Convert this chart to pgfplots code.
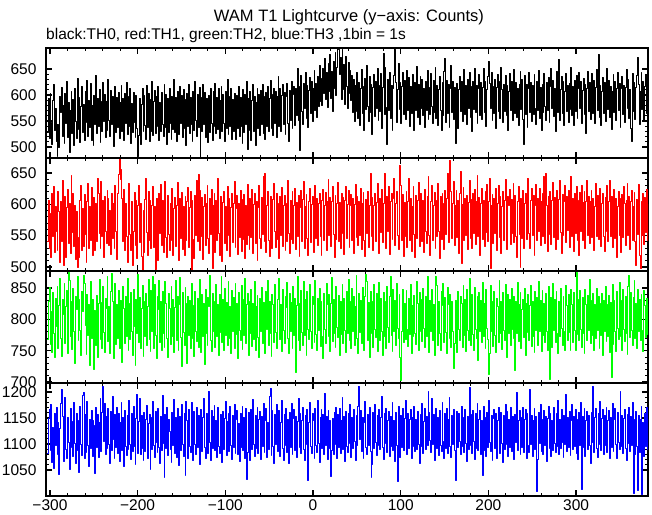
\documentclass[border=0pt]{standalone}
\usepackage{pgfplots}
\pgfplotsset{compat=1.18}
\usepackage{pgfplotstable}
\usepackage{fontspec}
\setmainfont{Liberation Sans}
\newcommand{\fs}{\fontsize{15.5bp}{18bp}\selectfont}

\pgfplotstableread{
t a b c d
-303 528 541 768 1082
-302 594 606 829 1149
-301 517 530 851 1167
-300 603 585 760 1088
-299 548 515 812 1176
-298 505 618 748 1064
-297 589 549 843 1132
-296 621 628 777 1053
-295 532 523 739 1158
-294 575 597 834 1097
-293 511 556 789 1171
-292 482 527 853 1079
-291 543 620 754 1141
-290 499 588 822 1041
-289 598 508 866 1130
-288 566 604 770 1177
-287 615 540 741 1205
-286 521 639 831 1153
-285 580 503 808 1066
-284 507 532 857 1138
-283 604 613 761 1190
-282 545 515 820 1089
-281 626 595 846 1072
-280 519 624 745 1151
-279 585 538 875 1103
-278 490 601 862 1051
-277 571 522 772 1168
-276 607 646 829 1094
-275 527 555 752 1143
-274 592 617 849 1076
-273 503 533 781 1180
-272 612 599 729 1101
-271 549 512 837 1063
-270 516 588 816 1159
-269 633 500 868 1087
-268 534 547 766 1145
-267 596 516 832 1046
-266 509 607 783 1172
-265 578 630 743 1099
-264 617 526 845 1078
-263 529 593 812 1194
-262 583 533 870 1198
-261 512 616 858 1072
-260 608 552 790 1156
-259 547 507 744 1084
-258 629 605 840 1182
-257 520 634 775 1097
-256 590 529 823 1056
-255 538 597 726 1148
-254 622 543 861 1091
-253 513 627 770 1164
-252 581 519 831 1077
-251 504 592 752 1146
-250 600 611 720 1135
-249 544 527 815 1043
-248 637 602 759 1170
-247 526 541 838 1093
-246 593 641 740 1157
-245 540 617 826 1074
-244 611 553 864 1142
-243 509 530 768 1188
-242 587 636 827 1085
-241 531 549 754 1160
-240 624 606 852 1210
-239 549 515 779 1104
-238 601 613 748 1177
-237 518 557 833 1080
-236 588 538 818 1152
-235 533 622 869 1091
-234 630 609 765 1168
-233 551 534 821 1099
-232 521 590 745 1062
-231 609 520 844 1163
-230 544 618 873 1087
-229 598 545 829 1191
-228 501 601 737 1108
-227 582 529 814 1073
-226 616 630 858 1156
-225 528 556 760 1094
-224 595 512 823 1170
-223 537 617 769 1081
-222 606 648 846 1159
-221 516 671 753 1066
-220 586 640 830 1142
-219 619 655 777 1180
-218 530 610 731 1088
-217 593 541 853 1151
-216 512 624 817 1057
-215 603 527 761 1165
-214 545 602 836 1096
-213 625 549 772 1078
-212 524 508 866 1154
-211 597 614 750 1089
-210 540 633 825 1183
-209 613 552 768 1100
-208 507 526 843 1071
-207 584 605 780 1158
-206 528 502 743 1085
-205 605 557 848 1172
-204 548 619 789 1095
-203 519 534 727 1061
-202 600 607 832 1149
-201 535 513 777 1195
-200 483 598 871 1082
-199 523 630 764 1144
-198 594 539 835 1187
-197 505 601 753 1079
-196 583 517 817 1155
-195 612 495 854 1092
-194 530 590 741 1068
-193 599 524 829 1161
-192 542 608 772 1086
-191 515 642 841 1148
-190 618 555 759 1174
-189 538 519 820 1072
-188 604 620 863 1139
-187 510 543 768 1157
-186 592 606 749 1051
-185 531 530 846 1150
-184 626 599 780 1090
-183 522 628 868 1182
-182 587 532 754 1097
-181 609 596 855 1075
-180 526 496 775 1163
-179 597 610 738 1102
-178 540 544 837 1084
-177 616 511 816 1169
-176 513 618 862 1093
-175 586 553 763 1062
-174 531 632 828 1152
-173 605 535 750 1087
-172 544 607 844 1193
-171 520 524 777 1101
-170 621 600 755 1036
-169 537 637 860 1156
-168 601 547 825 1092
-167 506 515 769 1171
-166 593 614 739 1078
-165 529 552 841 1147
-164 612 526 818 1124
-163 546 601 760 1089
-162 515 543 853 1065
-161 598 625 773 1160
-160 534 518 832 1097
-159 631 594 747 1186
-158 528 611 819 1082
-157 595 533 862 1151
-156 511 598 766 1074
-155 608 635 836 1168
-154 541 549 751 1094
-153 524 510 824 1059
-152 616 609 867 1153
-151 545 546 771 1088
-150 599 619 725 1175
-149 518 528 843 1100
-148 610 596 779 1077
-147 535 519 759 1158
-146 591 613 851 1040
-145 503 542 826 1182
-144 604 604 730 1145
-143 540 627 837 1072
-142 620 531 775 1166
-141 527 595 830 1096
-140 596 620 753 1083
-139 544 494 858 1179
-138 511 606 770 1104
-137 607 544 822 1068
-136 533 514 741 1162
-135 627 615 845 1099
-134 552 551 781 1080
-133 521 639 765 1171
-132 602 540 833 1093
-131 538 648 756 1155
-130 614 527 864 1061
-129 481 622 818 1147
-128 596 548 747 1167
-127 531 611 840 1086
-126 621 512 773 1150
-125 543 597 825 1188
-124 606 616 728 1094
-123 519 534 847 1073
-122 594 602 778 1159
-121 538 631 759 1098
-120 509 545 835 1081
-119 600 521 820 1200
-118 529 609 870 1102
-117 613 552 767 1069
-116 545 624 749 1164
-115 512 498 842 1091
-114 608 599 780 1153
-113 540 617 828 1174
-112 623 523 755 1087
-111 526 606 856 1146
-110 595 542 772 1075
-109 534 641 823 1170
-108 612 554 742 1096
-107 517 519 839 1082
-106 590 612 779 1157
-105 616 548 868 1141
-104 531 509 763 1064
-103 601 603 831 1163
-102 545 620 750 1090
-101 510 538 850 1149
-100 607 597 775 1181
-99 536 526 827 1078
-98 630 629 758 1143
-97 524 550 861 1159
-96 597 610 769 1085
-95 539 517 820 1172
-94 613 595 745 1098
-93 515 618 846 1071
-92 592 539 781 1154
-91 530 602 835 1093
-90 604 636 754 1175
-89 542 531 857 1082
-88 514 594 776 1148
-87 599 614 825 1165
-86 535 520 737 1079
-85 617 601 843 1140
-84 521 547 783 1066
-83 596 622 766 1158
-82 539 525 854 1094
-81 508 608 752 1173
-80 610 544 832 1087
-79 528 616 775 1150
-78 601 513 866 1073
-77 543 599 761 1169
-76 626 536 823 1032
-75 496 632 842 1084
-74 594 551 743 1160
-73 533 528 829 1103
-72 607 609 778 1068
-71 513 547 848 1166
-70 589 624 757 1090
-69 620 522 826 1185
-68 531 600 768 1099
-67 598 618 861 1076
-66 504 537 750 1155
-65 586 604 820 1092
-64 612 511 838 1171
-63 536 595 771 1081
-62 602 630 739 1147
-61 523 546 833 1162
-60 609 529 780 1070
-59 544 611 851 1152
-58 621 552 762 1095
-57 527 645 827 1177
-56 598 540 773 1084
-55 514 650 746 1145
-54 606 523 844 1168
-53 540 598 784 1075
-52 617 621 862 1142
-51 531 542 758 1089
-50 594 517 829 1192
-49 629 613 777 1206
-48 536 550 741 1078
-47 601 529 840 1165
-46 523 608 823 1096
-45 612 633 764 1063
-44 545 556 855 1157
-43 608 532 779 1100
-42 518 617 753 1175
-41 597 544 832 1086
-40 635 601 866 1148
-39 540 514 866 1164
-38 613 612 768 1077
-37 531 551 824 1142
-36 600 627 749 1183
-35 621 533 847 1091
-34 543 599 782 1069
-33 606 615 761 1156
-32 524 526 836 1098
-31 598 602 819 1169
-30 623 540 859 1083
-29 546 638 770 1147
-28 510 553 746 1062
-27 609 521 841 1160
-26 551 606 780 1094
-25 627 544 827 1178
-24 535 620 754 1080
-23 602 537 853 1149
-22 616 599 775 1166
-21 541 626 833 1088
-20 612 528 715 1152
-19 560 603 822 1075
-18 652 548 868 1144
-17 551 614 766 1187
-16 616 517 826 1093
-15 494 595 750 1159
-14 638 623 846 1082
-13 568 541 779 1145
-12 544 608 758 1171
-11 622 637 860 1090
-10 574 530 774 1068
-9 643 597 831 1154
-8 556 616 743 1099
-7 619 545 844 1167
-6 537 519 784 1030
-5 609 604 768 1142
-4 634 625 855 1180
-3 565 539 780 1095
-2 626 600 754 1081
-1 550 612 837 1158
0 613 524 823 1146
1 647 593 764 1072
2 571 631 862 1169
3 622 545 776 1098
4 558 610 751 1084
5 636 534 834 1183
6 579 602 782 1101
7 657 617 849 1065
8 588 548 757 1150
9 633 518 829 1166
10 581 606 773 1092
11 652 624 738 1157
12 604 542 841 1079
13 670 598 784 1197
14 591 619 761 1097
15 643 527 858 1153
16 576 604 824 1070
17 660 640 772 1165
18 607 550 840 1091
19 679 611 749 1146
20 594 533 825 1038
21 646 605 867 1087
22 568 628 765 1149
23 665 552 832 1080
24 613 516 777 1161
25 683 615 755 1100
26 599 544 853 1171
27 654 602 787 1073
28 689 635 771 1156
29 687 540 838 1094
30 640 603 743 1168
31 672 529 829 1082
32 592 618 776 1145
33 688 554 856 1189
34 610 611 762 1089
35 659 520 834 1152
36 583 607 783 1067
37 675 629 747 1163
38 616 546 844 1096
39 574 600 778 1084
40 662 622 863 1159
41 603 531 767 1101
42 648 598 828 1176
43 589 616 753 1075
44 637 543 849 1150
45 566 609 781 1091
46 630 521 836 1167
47 550 600 759 1104
48 618 632 821 1068
49 569 547 870 1155
50 643 612 770 1098
51 556 534 745 1172
52 625 605 842 1210
53 541 551 779 1108
54 612 626 830 1164
55 650 528 762 1086
56 564 601 851 1151
57 616 619 789 1073
58 533 543 751 1142
59 633 517 836 1181
60 572 608 872 1094
61 657 553 860 1079
62 578 621 766 1157
63 549 532 827 1098
64 635 598 739 1170
65 567 650 845 1085
66 621 549 777 1035
67 525 611 828 1061
68 614 526 756 1160
69 640 599 855 1092
70 559 618 784 1176
71 626 540 771 1103
72 574 603 841 1078
73 652 633 749 1154
74 551 547 824 1097
75 618 522 859 1166
76 568 609 767 1089
77 642 555 834 1150
78 536 624 780 1191
79 615 539 742 1093
80 680 602 843 1070
81 562 650 773 1158
82 654 548 829 1101
83 577 530 754 1169
84 505 613 852 1083
85 631 556 787 1145
86 571 628 764 1163
87 644 520 836 1076
88 555 605 869 1152
89 619 617 775 1095
90 532 544 749 1179
91 613 609 847 1088
92 638 642 781 1146
93 688 534 830 1067
94 624 601 758 1160
95 548 621 857 1098
96 610 550 786 1028
97 660 528 769 1172
98 573 614 839 1101
99 625 662 740 1075
100 546 631 702 1155
101 616 542 780 1093
102 643 616 848 1168
103 563 517 763 1087
104 629 603 825 1149
105 554 549 768 1184
106 612 621 846 1099
107 648 532 784 1080
108 570 604 757 1158
109 634 641 833 1091
110 539 543 776 1147
111 617 610 855 1166
112 564 525 746 1072
113 639 597 822 1151
114 578 628 772 1096
115 532 552 838 1173
116 624 515 778 1085
117 571 614 760 1148
118 655 546 861 1089
119 557 606 826 1163
120 620 635 751 1100
121 543 533 843 1062
122 636 600 781 1156
123 575 618 832 1095
124 631 541 765 1178
125 560 607 850 1081
126 613 523 786 1144
127 537 624 755 1168
128 626 557 836 1090
129 570 537 773 1153
130 647 612 869 1098
131 553 645 770 1201
132 614 551 747 1161
133 562 519 830 1106
134 641 605 780 1084
135 579 630 847 1187
136 545 542 767 1100
137 628 598 823 1157
138 567 619 742 1069
139 654 530 840 1142
140 556 607 869 1169
141 619 549 854 1091
142 542 634 759 1150
143 611 556 829 1078
144 636 514 777 1164
145 571 613 751 1097
146 533 544 844 1086
147 624 618 822 1180
148 561 601 857 1105
149 645 528 764 1073
150 670 623 835 1159
151 548 552 779 1092
152 629 610 745 1168
153 564 650 851 1082
154 621 539 824 1147
155 538 613 769 1190
156 613 670 840 1096
157 657 620 755 1075
158 566 545 828 1154
159 627 602 781 1100
160 554 636 722 1166
161 615 534 762 1087
162 508 598 830 1030
163 559 622 812 1061
164 622 547 747 1162
165 536 606 845 1093
166 611 522 784 1158
167 635 618 766 1104
168 569 652 837 1079
169 626 506 825 1173
170 550 600 755 1095
171 614 627 854 1151
172 649 543 774 1084
173 563 609 832 1167
174 618 551 749 1101
175 543 614 847 1066
176 630 528 782 1152
177 574 603 767 1090
178 643 639 865 1208
179 557 546 823 1098
180 616 608 758 1156
181 530 530 839 1082
182 626 617 776 1165
183 572 554 750 1104
184 651 624 851 1071
185 567 536 784 1159
186 619 605 769 1092
187 546 647 836 1177
188 612 549 734 1087
189 640 611 843 1148
190 561 518 780 1164
191 625 602 830 1080
192 553 626 763 1146
193 614 544 859 1040
194 652 607 773 1172
195 566 533 825 1088
196 627 620 754 1151
197 540 555 848 1077
198 610 632 786 1161
199 636 541 768 1094
200 665 604 712 1183
201 622 641 745 1102
202 575 497 854 1085
203 644 599 781 1154
204 551 616 828 1069
205 617 538 757 1149
206 564 609 845 1166
207 631 553 775 1091
208 535 625 748 1158
209 614 527 834 1073
210 639 601 820 1145
211 569 630 763 1171
212 626 547 862 1096
213 556 612 778 1082
214 653 521 829 1160
215 611 597 752 1101
216 548 621 843 1064
217 620 542 782 1155
218 568 606 767 1090
219 637 640 855 1176
220 560 551 823 1099
221 619 528 740 1162
222 533 613 840 1077
223 608 599 777 1148
224 642 624 832 1093
225 570 536 758 1170
226 627 608 849 1085
227 552 553 784 1152
228 616 634 769 1098
229 649 539 837 1071
230 565 615 718 1157
231 625 548 828 1102
232 558 516 778 1199
233 613 605 859 1088
234 542 628 765 1146
235 621 552 824 1165
236 646 499 843 1079
237 573 610 753 1150
238 630 546 816 1094
239 554 622 832 1171
240 505 530 771 1083
241 638 601 850 1148
242 563 617 743 1166
243 620 544 826 1073
244 538 608 779 1159
245 612 641 839 1097
246 644 554 766 1084
247 567 529 822 1205
248 624 607 854 1100
249 550 625 757 1155
250 618 550 828 1077
251 562 614 773 1146
252 639 518 747 1168
253 575 599 845 1089
254 544 632 783 1152
255 627 543 835 1008
256 571 609 759 1070
257 648 556 860 1161
258 556 626 780 1101
259 615 534 830 1175
260 533 604 749 1086
261 621 618 846 1147
262 567 548 775 1080
263 642 645 826 1164
264 579 537 764 1098
265 552 650 841 1153
266 625 599 780 1066
267 570 525 750 1149
268 634 613 853 1173
269 547 552 820 1092
270 616 620 705 1158
271 651 536 835 1077
272 574 606 755 1145
273 628 635 857 1087
274 559 547 782 1170
275 613 611 832 1101
276 530 528 764 1083
277 620 603 845 1159
278 645 622 778 1096
279 566 544 746 1184
280 668 608 828 1080
281 551 639 772 1148
282 611 555 850 1091
283 635 522 785 1166
284 564 616 759 1102
285 626 550 837 1074
286 542 605 780 1155
287 608 630 750 1099
288 641 539 854 1196
289 569 613 822 1085
290 619 558 767 1150
291 548 623 839 1093
292 623 531 779 1162
293 572 607 751 1078
294 654 644 848 1145
295 561 548 823 1176
296 616 610 763 1089
297 541 525 843 1153
298 629 617 783 1096
299 568 554 750 1167
300 637 629 874 1082
301 555 543 776 1148
302 613 606 832 1071
303 643 518 767 1160
304 574 619 846 1097
305 627 556 784 1179
306 546 631 755 1012
307 609 542 835 1152
308 633 603 778 1094
309 563 620 746 1169
310 621 530 847 1076
311 526 604 823 1146
312 612 638 767 1163
313 646 551 838 1090
314 569 612 782 1154
315 624 537 863 1098
316 554 605 761 1062
317 618 622 830 1161
318 642 547 774 1103
319 565 609 842 1210
320 628 527 751 1084
321 545 597 823 1150
322 614 633 770 1168
323 649 549 850 1091
324 571 615 783 1075
325 678 544 836 1158
326 557 608 754 1100
327 619 626 825 1182
328 542 533 775 1088
329 608 601 841 1149
330 634 618 743 1166
331 565 549 830 1080
332 625 525 780 1155
333 550 611 852 1097
334 614 556 765 1171
335 651 630 823 1083
336 572 541 772 1146
337 629 604 838 1164
338 558 639 748 1072
339 616 549 827 1151
340 534 613 708 1093
341 607 532 855 1177
342 639 599 760 1085
343 567 624 830 1148
344 626 545 781 1168
345 551 610 749 1099
346 613 515 844 1073
347 644 597 786 1160
348 570 621 768 1102
349 623 551 859 1089
350 537 609 773 1200
351 612 524 830 1096
352 636 616 751 1155
353 563 547 847 1081
354 619 629 784 1149
355 548 601 765 1167
356 615 534 836 1092
357 649 606 778 1068
358 574 633 744 1157
359 630 550 853 1101
360 555 612 870 1170
361 611 528 771 1086
362 536 604 843 1152
363 510 623 782 1098
364 641 542 758 1179
365 568 597 835 1005
366 625 619 862 1147
367 553 540 769 1080
368 614 502 825 1163
369 637 608 753 1096
370 672 552 848 1010
371 621 632 780 1154
372 544 518 832 1084
373 608 498 767 1148
374 644 605 839 1172
375 572 550 783 1003
376 626 618 749 1142
377 551 536 846 1077
378 616 611 822 1159
379 639 555 771 1095
380 564 624 833 1170
381 623 543 776 1089
382 607 601 825 1148
}\lc

\pgfplotsset{
  panel/.style={
    scale only axis,
    width=602bp,
    anchor=north west,
    xmin=-304.5, xmax=382,
    axis line style={line width=1.4bp},
    major tick style={line width=1.4bp, black},
    minor tick style={line width=0.9bp, black},
    major tick length=6bp,
    minor tick length=3bp,
    tick align=inside,
    xtick pos=both, ytick pos=both,
    xtick={-300,-200,-100,0,100,200,300},
    minor x tick num=4,
    minor y tick num=4,
    xticklabels={,,,,,,},
    ticklabel style={font=\fs},
    yticklabel style={xshift=-6bp},
    /pgf/number format/assume math mode=true,
    /pgf/number format/1000 sep={},
    every axis plot/.append style={const plot, line width=0.8bp, line join=miter, miter limit=1},
  }
}

\begin{document}
\begin{tikzpicture}
\useasboundingbox (0,0) rectangle (652bp,-515bp);
\node[font=\fontsize{16.5bp}{19bp}\selectfont] at (349bp,-17bp) {WAM T1 Lightcurve (y−axis: Counts)};
\node[font=\fs, anchor=west, inner sep=0pt] at (46bp,-35bp) {black:TH0, red:TH1, green:TH2, blue:TH3 ,1bin = 1s};

\begin{axis}[panel, at={(46bp,-48bp)}, height=110bp,
  ymin=479, ymax=690.5, ytick={500,550,600,650}]
\addplot[black] table[x=t, y=a] {\lc};
\end{axis}

\begin{axis}[panel, at={(46bp,-158bp)}, height=113bp,
  ymin=493.5, ymax=674, ytick={500,550,600,650}]
\addplot[red] table[x=t, y=b] {\lc};
\end{axis}

\begin{axis}[panel, at={(46bp,-271bp)}, height=112bp,
  ymin=698.5, ymax=877, ytick={700,750,800,850}]
\addplot[green] table[x=t, y=c] {\lc};
\end{axis}

\begin{axis}[panel, at={(46bp,-383bp)}, height=113bp,
  ymin=1000, ymax=1217, ytick={1050,1100,1150,1200},
  xticklabels={−300,−200,−100,0,100,200,300}]
\addplot[blue] table[x=t, y=d] {\lc};
\end{axis}
\end{tikzpicture}
\end{document}
